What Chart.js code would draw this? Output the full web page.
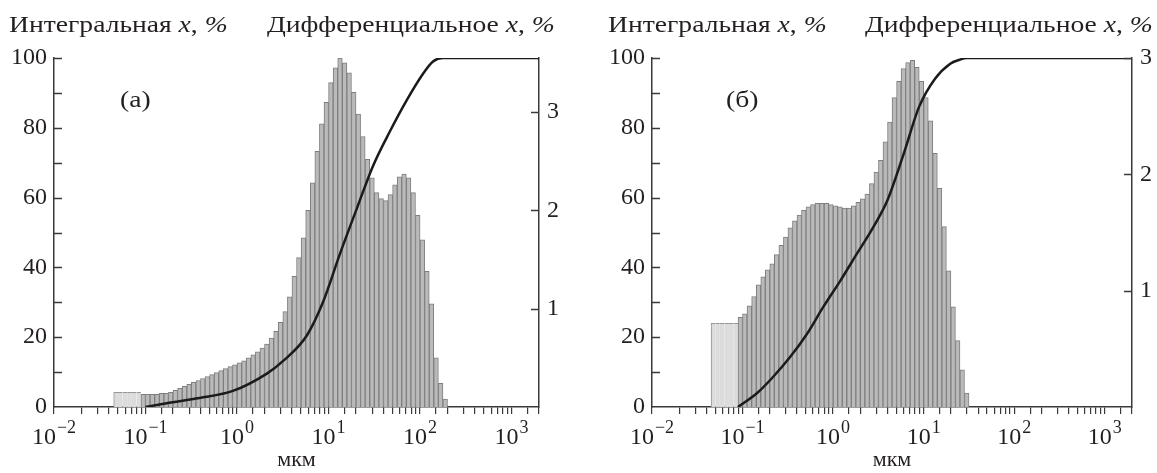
<!DOCTYPE html>
<html>
<head>
<meta charset="utf-8">
<script src="https://cdn.jsdelivr.net/npm/chart.js@4.4.1/dist/chart.umd.min.js"></script>
<style>
  body { margin: 0; background: #fff; }
  #wrap { position: relative; width: 1157px; height: 473px; font-family: "Liberation Serif", serif; color: #231f20; }
  canvas { position: absolute; top: 0; }
  .t { position: absolute; font-size: 24px; line-height: 24px; white-space: nowrap;
       transform: scaleX(1.15); transform-origin: left top; }
</style>
</head>
<body>
<div id="wrap">
  <canvas id="chartA" width="578" height="473" style="left:0"></canvas>
  <canvas id="chartB" width="579" height="473" style="left:578px"></canvas>

  <div class="t" style="left:9px;top:12px">Интегральная <i>x</i>, <i>%</i></div>
  <div class="t" style="left:267px;top:12px">Дифференциальное <i>x</i>, <i>%</i></div>
  <div class="t" style="left:120px;top:87px">(a)</div>

  <div class="t" style="left:608px;top:12px">Интегральная <i>x</i>, <i>%</i></div>
  <div class="t" style="left:865px;top:12px">Дифференциальное <i>x</i>, <i>%</i></div>
  <div class="t" style="left:726px;top:87px">(б)</div>
</div>

<script>
// size classes, µm (lower edges of the analyser bins)
const sizeClasses = [
  0.045, 0.050, 0.056, 0.063, 0.071, 0.080, 0.089, 0.100, 0.112, 0.126,
  0.142, 0.159, 0.178, 0.200, 0.224, 0.252, 0.283, 0.317, 0.356, 0.399,
  0.448, 0.502, 0.564, 0.632, 0.710, 0.796, 0.893, 1.002, 1.125, 1.262,
  1.416, 1.589, 1.783, 2.000, 2.244, 2.518, 2.825, 3.170, 3.557, 3.991,
  4.477, 5.024, 5.637, 6.325, 7.096, 7.962, 8.934, 10.02, 11.25, 12.62,
  14.16, 15.89, 17.83, 20.00, 22.44, 25.18, 28.25, 31.70, 35.57, 39.91,
  44.77, 50.24, 56.37, 63.25, 70.96, 79.62, 89.34, 100.2, 112.5, 126.2,
  141.6, 158.9, 178.3, 200.0
];

// (a) differential, % per class (light block first, then the main histogram)
const undersizeA = [0.15, 0.15, 0.15, 0.15, 0.15, 0.15];
const diffA = [
  0.13, 0.13, 0.13, 0.13, 0.14, 0.14, 0.15, 0.17, 0.19, 0.21,
  0.23, 0.25, 0.27, 0.29, 0.31, 0.33, 0.35, 0.37, 0.39, 0.41,
  0.43, 0.45, 0.47, 0.50, 0.53, 0.56, 0.60, 0.64, 0.70, 0.77,
  0.86, 0.97, 1.12, 1.33, 1.52, 1.72, 2.00, 2.28, 2.60, 2.88,
  3.10, 3.30, 3.45, 3.55, 3.50, 3.40, 3.20, 2.98, 2.75, 2.52,
  2.33, 2.18, 2.12, 2.10, 2.16, 2.26, 2.34, 2.37, 2.33, 2.18,
  1.95, 1.70, 1.38, 1.05, 0.50, 0.24, 0.08
];
// (a) integral curve
const cumSizeA = [0.1, 0.17, 0.39, 0.9, 2.1, 3.2, 5.8, 8.7, 13.4, 20.5, 30.6, 47, 72, 108, 139, 178, 2000];
const cumA     = [0, 1.1, 2.6, 4.6, 9.5, 13.2, 20.5, 30, 44, 57, 69, 79, 88, 95.5, 99, 100, 100];

// (б) differential
const undersizeB = [0.72, 0.72, 0.72, 0.72, 0.72, 0.72];
const diffB = [
  0.77, 0.80, 0.87, 0.95, 1.05, 1.12, 1.18, 1.23, 1.31, 1.39,
  1.46, 1.54, 1.60, 1.65, 1.69, 1.72, 1.74, 1.75, 1.75, 1.75,
  1.74, 1.73, 1.72, 1.71, 1.71, 1.73, 1.76, 1.79, 1.83, 1.92,
  2.02, 2.12, 2.28, 2.45, 2.66, 2.80, 2.91, 2.96, 2.98, 2.92,
  2.80, 2.66, 2.46, 2.18, 1.88, 1.55, 1.17, 0.86, 0.57, 0.32,
  0.12
];
// (б) integral curve
const cumSizeB = [0.089, 0.145, 0.217, 0.335, 0.516, 0.776, 1.19, 1.84, 2.77, 3.95, 5.93, 8.9, 13.3, 19.5, 25, 30, 2000];
const cumB     = [0, 4, 8.6, 14.3, 21, 28.6, 36, 44, 51.5, 59, 72, 86, 94, 98.3, 99.5, 100, 100];

const FONT = 'Liberation Serif';
const INK = '#231f20';
const AXIS = '#3a3a3a';

function binPoints(under, diff) {
  return under.concat(diff).map((v, j) => ({
    x: Math.sqrt(sizeClasses[j] * sizeClasses[j + 1]),
    y: v
  }));
}

function decadeExp(v) {
  const e = Math.round(Math.log10(v));
  return Math.abs(Math.pow(10, e) - v) / v < 1e-6 ? e : null;
}

// y ticks in the original point into the plot
const innerTicks = {
  id: 'innerTicks',
  afterDraw(chart) {
    const { ctx, chartArea } = chart;
    ctx.save();
    ctx.strokeStyle = AXIS;
    ctx.lineWidth = 1.5;
    ['yL', 'yR'].forEach(id => {
      const s = chart.scales[id];
      const left = id === 'yL';
      const x0 = left ? chartArea.left : chartArea.right;
      s.ticks.forEach(t => {
        if (t.value === 0) return;
        const y = Math.round(s.getPixelForValue(t.value)) + 0.5;
        ctx.beginPath();
        ctx.moveTo(x0, y);
        ctx.lineTo(left ? x0 + 8 : x0 - 8, y);
        ctx.stroke();
      });
    });
    ctx.restore();
  }
};

// decade labels 10^n with a real raised exponent
const decadeLabels = {
  id: 'decadeLabels',
  afterDraw(chart) {
    const s = chart.scales.x;
    const ctx = chart.ctx;
    const base = chart.chartArea.bottom + 37;
    ctx.save();
    ctx.fillStyle = INK;
    ctx.textAlign = 'left';
    ctx.textBaseline = 'alphabetic';
    s.ticks.forEach(t => {
      const e = decadeExp(t.value);
      if (e === null) return;
      const x = s.getPixelForValue(t.value);
      const exp = String(e).replace('-', '\u2212');
      ctx.font = `24px "${FONT}"`;
      const wb = ctx.measureText('10').width;
      ctx.font = `18px "${FONT}"`;
      const we = ctx.measureText(exp).width;
      const x0 = x - (wb + we + 1) / 2;
      ctx.font = `24px "${FONT}"`;
      ctx.fillText('10', x0, base);
      ctx.font = `18px "${FONT}"`;
      ctx.fillText(exp, x0 + wb + 1, base - 11);
    });
    ctx.restore();
  }
};

function makeChart(id, under, diff, cumX, cumY, rightMax, leftW, rightW) {
  const nLight = under.length;
  const bars = binPoints(under, diff);
  const curve = cumX.map((x, i) => ({ x: x, y: cumY[i] }));

  return new Chart(document.getElementById(id).getContext('2d'), {
    type: 'bar',
    data: {
      datasets: [
        {
          type: 'line',
          data: curve,
          yAxisID: 'yL',
          borderColor: '#1b1b1b',
          borderWidth: 2.5,
          pointRadius: 0,
          cubicInterpolationMode: 'monotone',
          fill: false,
          order: 0
        },
        {
          type: 'bar',
          data: bars,
          yAxisID: 'yR',
          barThickness: 'flex',
          categoryPercentage: 1,
          barPercentage: 1,
          backgroundColor: c => c.dataIndex < nLight ? '#dcdcdc' : '#bababa',
          borderColor: c => c.dataIndex < nLight ? '#969696' : '#7e7e7e',
          borderWidth: c => c.dataIndex < nLight
            ? { top: 1, left: c.dataIndex === 0 ? 1 : 0, right: 0 }
            : 1,
          borderSkipped: 'start',
          order: 1
        }
      ]
    },
    options: {
      responsive: false,
      animation: false,
      layout: { padding: { top: 58, left: 0, right: 0, bottom: 0 } },
      plugins: {
        legend: { display: false },
        tooltip: { enabled: false }
      },
      scales: {
        x: {
          type: 'logarithmic',
          min: 0.01,
          max: 2000,
          offset: false,
          grid: {
            offset: false,
            drawOnChartArea: false,
            drawTicks: true,
            tickLength: 7,
            color: AXIS,
            lineWidth: 1.2
          },
          border: { display: true, color: AXIS, width: 1.5 },
          ticks: {
            autoSkip: false,
            maxRotation: 0,
            minRotation: 0,
            callback: () => ''
          },
          title: {
            display: true,
            text: 'мкм',
            color: INK,
            font: { family: FONT, size: 22 },
            padding: { top: 0, bottom: 0 }
          },
          afterFit: s => { s.height = 66; }
        },
        yL: {
          position: 'left',
          min: 0,
          max: 100,
          grid: { display: false, drawTicks: false },
          border: { display: true, color: AXIS, width: 1.5 },
          ticks: {
            stepSize: 10,
            padding: 7,
            color: INK,
            font: { family: FONT, size: 24 },
            callback: v => (v % 20 === 0 ? String(v) : '')
          },
          afterFit: s => { s.width = leftW; }
        },
        yR: {
          position: 'right',
          min: 0,
          max: rightMax,
          grid: { display: false, drawTicks: false },
          border: { display: true, color: AXIS, width: 1.5 },
          ticks: {
            stepSize: 1,
            includeBounds: false,
            padding: 8,
            color: INK,
            font: { family: FONT, size: 24 },
            callback: v => (v === 0 ? '' : String(v))
          },
          afterFit: s => { s.width = rightW; }
        }
      }
    },
    plugins: [innerTicks, decadeLabels]
  });
}

makeChart('chartA', undersizeA, diffA, cumSizeA, cumA, 3.55, 54, 39);
makeChart('chartB', undersizeB, diffB, cumSizeB, cumB, 3.0, 74, 25);
</script>
</body>
</html>
